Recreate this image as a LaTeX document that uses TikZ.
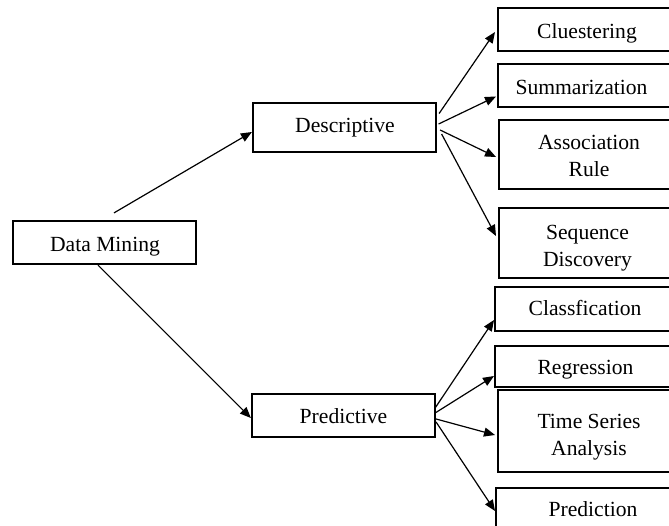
\documentclass[tikz,border=0pt]{standalone}
\usepackage{fontspec}
\setmainfont{Liberation Serif}
\usetikzlibrary{arrows.meta,calc}
\begin{document}
\begin{tikzpicture}[x=1bp,y=-1bp,
  boxnode/.style={draw=black,line width=2.2bp,rectangle,inner sep=0pt},
  rbox/.style={boxnode,anchor=west,minimum width=200bp},
  lbl/.style={anchor=base,inner sep=0pt,font=\fontsize{21.6bp}{27bp}\selectfont},
  conn/.style={line width=1.2bp,-{Triangle[length=11bp,width=9bp]}}]
\path[use as bounding box,clip] (0,0) rectangle (669,526);
% boxes
\node[boxnode,minimum width=183bp,minimum height=43bp] (dm) at (104.5,242.5) {};
\node[boxnode,minimum width=183bp,minimum height=49bp] (desc) at (344.5,127.5) {};
\node[boxnode,minimum width=183bp,minimum height=43bp] (pred) at (343.5,415.5) {};
\node[rbox,minimum height=43bp] (clust) at (497,29.5) {};
\node[rbox,minimum height=43bp] (summ) at (497,85.5) {};
\node[rbox,minimum height=69bp] (assoc) at (498,154.5) {};
\node[rbox,minimum height=70bp] (seq) at (498,243) {};
\node[rbox,minimum height=44bp] (class) at (494,309) {};
\node[rbox,minimum height=41bp] (regr) at (494,366.5) {};
\node[rbox,minimum height=82bp] (ts) at (497,431) {};
\node[rbox,minimum height=60bp] (predn) at (495,518) {};
% labels
\node[lbl] (tdm) at (105,252) {Data Mining};
\node[lbl] (tdesc) at (345,133) {Descriptive};
\node[lbl] (tpred) at (343.5,423) {Predictive};
\node[lbl] (tclust) at (587,39) {Cluestering};
\node[lbl] (tsumm) at (581.5,95) {Summarization};
\node[lbl] (tassoc) at (589,177) {\begin{tabular}[b]{@{}c@{}}Association\\Rule\end{tabular}};
\node[lbl] (tseq) at (587.5,267) {\begin{tabular}[b]{@{}c@{}}Sequence\\Discovery\end{tabular}};
\node[lbl] (tclass) at (585,315) {Classfication};
\node[lbl] (tregr) at (585.5,374) {Regression};
\node[lbl] (tts) at (589,455) {\begin{tabular}[b]{@{}c@{}}Time Series\\Analysis\end{tabular}};
\node[lbl] (tpredn) at (593,516) {Prediction};
% connectors
\draw[conn] ($(dm.north)+(9.5,-7)$) -- ($(desc.west)+(0,4.5)$);
\draw[conn] ($(dm.south)+(-6.5,0)$) -- ($(pred.west)+(0,2.5)$);
\draw[conn] ($(desc.east)+(2,-14)$) -- ($(clust.west)+(-2,2.5)$);
\draw[conn] ($(desc.east)+(1.5,-3.5)$) -- ($(summ.west)+(-1,11)$);
\draw[conn] ($(desc.east)+(3,2.5)$) -- ($(assoc.west)+(-2,2.5)$);
\draw[conn] ($(desc.east)+(4.5,6.5)$) -- ($(seq.west)+(-2,-7)$);
\draw[conn] ($(pred.east)+(-1,-7.5)$) -- ($(class.west)+(0,11)$);
\draw[conn] ($(pred.east)+(-1,-2.5)$) -- ($(regr.west)+(0,9.5)$);
\draw[conn] ($(pred.east)+(0,3.5)$) -- ($(ts.west)+(-2,4)$);
\draw[conn] ($(pred.east)+(0,6.5)$) -- ($(predn.west)+(0,-7)$);
\end{tikzpicture}
\end{document}
